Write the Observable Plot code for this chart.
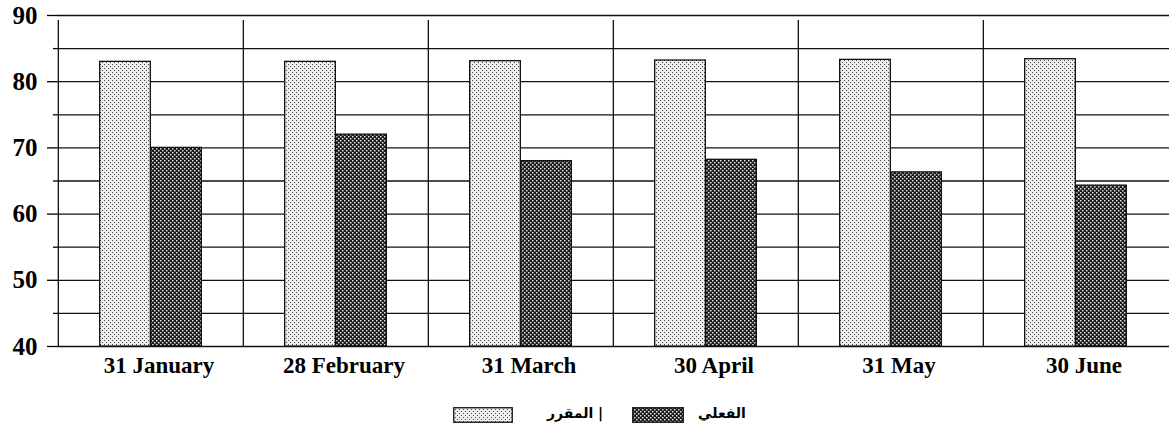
<!DOCTYPE html>
<html><head><meta charset="utf-8">
<script src="https://cdn.jsdelivr.net/npm/d3@7"></script>
<script src="https://cdn.jsdelivr.net/npm/@observablehq/plot@0.6"></script>
<style>
body{margin:0;background:#fff;}
#wrap{position:relative;width:1169px;height:432px;overflow:hidden;}
#wrap svg text{font-family:"Liberation Serif","Times New Roman",serif;font-weight:bold;fill:#000;}
.lg{position:absolute;font-family:"DejaVu Sans",sans-serif;font-weight:bold;font-size:14px;line-height:16px;color:#000;white-space:nowrap;}
.box{position:absolute;}
</style></head><body><div id="wrap"></div>
<script>
const dates = ["31 January","28 February","31 March","30 April","31 May","30 June"];
const planned = [83.0, 83.0, 83.1, 83.2, 83.3, 83.4];
const actual = [70.0, 72.0, 68.0, 68.2, 66.3, 64.3];
const yMajor = [40, 50, 60, 70, 80, 90];
const yMinor = [45, 55, 65, 75, 85];
const legendPlanned = "المقرر";
const legendActual = "الفعلي";

const rows = dates.map((d, i) => ({date: d, planned: planned[i], actual: actual[i]}));
const W = 1169, ML = 57, MR = 0;
const bw = (W - ML - MR) / dates.length;
const barW = 51;
const gIn = (bw - 2 * barW) / 2;

const chart = Plot.plot({
  width: W, height: 392, marginTop: 15, marginBottom: 46, marginLeft: ML, marginRight: MR,
  x: {domain: dates, padding: 0, axis: null},
  y: {domain: [40, 90], axis: null},
  marks: [
    Plot.ruleY(yMajor.concat(yMinor), {stroke: "#111", strokeWidth: 1.3}),
    Plot.ruleX(dates, {x: d => d, dx: -bw / 2, y1: 40, y2: 90, insetBottom: -5, stroke: "#111", strokeWidth: 1.3}),
    Plot.axisY({ticks: yMajor, tickSize: 10, tickPadding: 10, fontSize: 25, strokeWidth: 1.3, label: null}),
    Plot.axisY({ticks: yMinor, tickSize: 4, text: null, strokeWidth: 1.3, label: null}),
    Plot.barY(rows, {x: "date", y1: 40, y2: "planned", insetLeft: gIn, insetRight: gIn + barW, fill: "url(#patLight)", stroke: "#111", strokeWidth: 1.3}),
    Plot.barY(rows, {x: "date", y1: 40, y2: "actual", insetLeft: gIn + barW, insetRight: gIn, fill: "url(#patDark)", stroke: "#111", strokeWidth: 1.3}),
    Plot.axisX({tickSize: 0, tickPadding: 10, fontSize: 23, dx: 8, label: null})
  ]
});

const defs = d3.select(chart).insert("defs", ":first-child");
const pl = defs.append("pattern").attr("id", "patLight").attr("patternUnits", "userSpaceOnUse").attr("width", 4).attr("height", 4);
pl.append("rect").attr("width", 4).attr("height", 4).attr("fill", "#eeeeee");
pl.append("rect").attr("x", 0).attr("y", 0).attr("width", 1).attr("height", 1).attr("fill", "#444");
pl.append("rect").attr("x", 2).attr("y", 2).attr("width", 1).attr("height", 1).attr("fill", "#444");
const pd = defs.append("pattern").attr("id", "patDark").attr("patternUnits", "userSpaceOnUse").attr("width", 4).attr("height", 4);
pd.append("rect").attr("width", 4).attr("height", 4).attr("fill", "#1c1c1c");
pd.append("rect").attr("x", 0).attr("y", 0).attr("width", 1.5).attr("height", 1.5).attr("fill", "#ddd");
pd.append("rect").attr("x", 2).attr("y", 2).attr("width", 1.5).attr("height", 1.5).attr("fill", "#ddd");

const wrap = document.getElementById("wrap");
wrap.appendChild(chart);

function box(left, width, pat) {
  const s = d3.create("svg").attr("class", "box").attr("width", width).attr("height", 16)
    .style("left", left + "px").style("top", "407px");
  s.append("rect").attr("x", 0.75).attr("y", 0.75).attr("width", width - 1.5).attr("height", 14.5)
    .attr("fill", `url(#${pat})`).attr("stroke", "#111").attr("stroke-width", 1.3);
  wrap.appendChild(s.node());
}
function label(left, txt) {
  const d = document.createElement("div");
  d.className = "lg"; d.style.left = left + "px"; d.style.top = "405px"; d.textContent = txt;
  wrap.appendChild(d);
}
box(453, 60, "patLight");
label(547, legendPlanned);
label(598, "|");
box(632, 52, "patDark");
label(698, legendActual);
</script></body></html>
